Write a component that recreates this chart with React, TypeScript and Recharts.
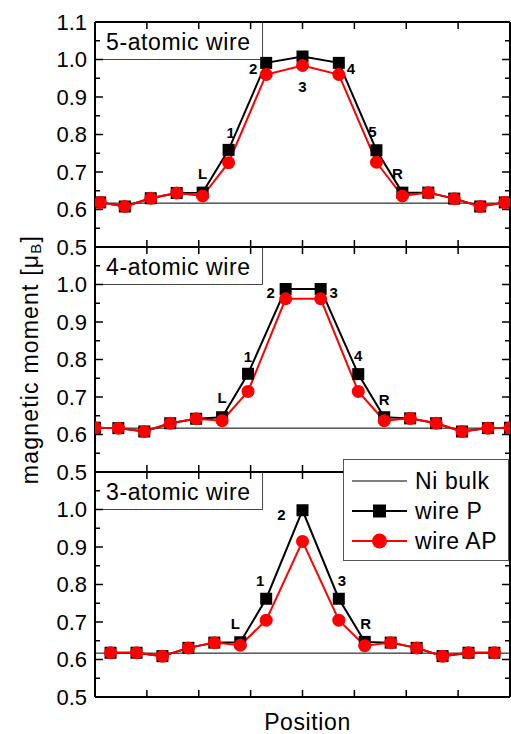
import React from 'react';
import { LineChart, Line, XAxis, YAxis, ReferenceLine, ReferenceArea, LabelList, Legend, Label } from 'recharts';

const FONT = '"Liberation Sans", Arial, sans-serif';

// axes
const xTicks = [0, 2, 4, 6, 8, 10, 12, 14, 16];
const yMajor = [0.5, 0.6, 0.7, 0.8, 0.9, 1.0, 1.1];
const yMinor = [0.55, 0.65, 0.75, 0.85, 0.95, 1.05];
const yLabelled = [0.5, 0.6, 0.7, 0.8, 0.9, 1.0];
const niBulk = 0.617;

// 5-atomic wire
const pos5 = [0.2, 1.15, 2.15, 3.15, 4.15, 5.15, 6.6, 8.0, 9.4, 10.85, 11.85, 12.85, 13.85, 14.85, 15.8];
const p5 = [0.619, 0.608, 0.630, 0.644, 0.645, 0.759, 0.991, 1.008, 0.991, 0.758, 0.645, 0.645, 0.629, 0.608, 0.619];
const ap5 = [0.619, 0.608, 0.630, 0.644, 0.636, 0.725, 0.960, 0.984, 0.960, 0.726, 0.636, 0.645, 0.629, 0.608, 0.619];
const lbl5 = ['', '', '', '', 'L', '1', '2', '3', '4', '5', 'R', '', '', '', ''];

// 4-atomic wire
const pos4 = [0, 0.9, 1.9, 2.9, 3.9, 4.9, 5.9, 7.35, 8.7, 10.15, 11.15, 12.15, 13.15, 14.15, 15.15, 16];
const p4 = [0.618, 0.617, 0.608, 0.630, 0.642, 0.646, 0.762, 0.988, 0.988, 0.761, 0.646, 0.643, 0.630, 0.608, 0.617, 0.618];
const ap4 = [0.618, 0.617, 0.608, 0.630, 0.642, 0.637, 0.715, 0.962, 0.962, 0.715, 0.637, 0.643, 0.630, 0.608, 0.617, 0.618];
const lbl4 = ['', '', '', '', '', 'L', '1', '2', '3', '4', 'R', '', '', '', '', ''];

// 3-atomic wire
const pos3 = [0.6, 1.6, 2.6, 3.6, 4.6, 5.6, 6.6, 8.0, 9.4, 10.4, 11.4, 12.4, 13.4, 14.4, 15.4];
const p3 = [0.618, 0.618, 0.609, 0.631, 0.645, 0.646, 0.762, 0.998, 0.762, 0.647, 0.645, 0.631, 0.609, 0.618, 0.618];
const ap3 = [0.618, 0.618, 0.609, 0.631, 0.645, 0.638, 0.705, 0.915, 0.705, 0.637, 0.645, 0.631, 0.609, 0.618, 0.618];
const lbl3 = ['', '', '', '', '', 'L', '1', '2', '3', 'R', '', '', '', '', ''];

// label offsets from the square marker, per panel
const offs5: Record<string, number[]> = { L: [0, -19], '1': [2, -17], '2': [-13, 6], '3': [0, 30], '4': [12, 6], '5': [-4, -19], R: [-5, -19] };
const offs4: Record<string, number[]> = { L: [0, -20], '1': [0, -17], '2': [-15, 3], '3': [13, 3], '4': [0, -19], R: [0, -18] };
const offs3: Record<string, number[]> = { L: [-5, -19], '1': [-6, -18], '2': [-21, 4], '3': [3, -18], R: [1, -18] };

const legendItems = [
  { name: 'Ni bulk', kind: 'plain', color: '#000' },
  { name: 'wire P', kind: 'square', color: '#000' },
  { name: 'wire AP', kind: 'circle', color: '#ff0000' },
];

const build = (pos: number[], p: number[], ap: number[], lbl: string[]) =>
  pos.map((x, i) => ({ x, p: p[i], ap: ap[i], lbl: lbl[i] }));

const squareDot = (props: any) => {
  const { cx, cy, index } = props;
  if (cx == null || cy == null) return <g key={`s${index}`} />;
  return <rect key={`s${index}`} x={cx - 6} y={cy - 6} width={12} height={12} fill="#000" />;
};

const makeLabel = (offs: Record<string, number[]>) => (props: any) => {
  const { x, y, value, index } = props;
  if (!value) return null;
  const [dx, dy] = offs[value];
  return (
    <text key={`l${index}`} x={x + dx} y={y + dy} textAnchor="middle" dominantBaseline="central"
      fontFamily={FONT} fontWeight="bold" fontSize={15} fill="#000">{value}</text>
  );
};

const YTitle = (props: any) => {
  const { viewBox } = props;
  const cx = 30;
  const cy = viewBox.y + viewBox.height / 2;
  return (
    <text x={cx} y={cy} transform={`rotate(-90 ${cx} ${cy})`} textAnchor="middle" dominantBaseline="central"
      fontFamily={FONT} fontSize={23} letterSpacing={1.2} fill="#000">
      magnetic moment [μ<tspan dy={5} fontSize={15}>B</tspan><tspan dy={-5}>]</tspan>
    </text>
  );
};

const XTitle = (props: any) => {
  const { viewBox } = props;
  return (
    <text x={viewBox.x + viewBox.width / 2 + 5} y={viewBox.y + 26} textAnchor="middle" dominantBaseline="central"
      fontFamily={FONT} fontSize={23} letterSpacing={0.6} fill="#000">Position</text>
  );
};

const makeBoxTitle = (title: string) => (props: any) => {
  const { viewBox } = props;
  return (
    <text x={viewBox.x + 11} y={viewBox.y + viewBox.height / 2 + 1} dominantBaseline="central"
      fontFamily={FONT} fontSize={23} letterSpacing={0.6} fill="#000">{title}</text>
  );
};

const LegendBox = () => (
  <div style={{ width: 166, height: 102, boxSizing: 'border-box', border: '1px solid #555', background: '#fff', paddingTop: 6 }}>
    {legendItems.map((item) => (
      <div key={item.name} style={{ display: 'flex', alignItems: 'center', height: 30 }}>
        <svg width={71} height={30} style={{ flex: 'none' }}>
          <line x1={8} x2={63} y1={15} y2={15} stroke={item.color} strokeWidth={item.kind === 'plain' ? 1 : 2} />
          {item.kind === 'square' && <rect x={29} y={8.5} width={13} height={13} fill={item.color} />}
          {item.kind === 'circle' && <circle cx={35.5} cy={15} r={7.5} fill={item.color} />}
        </svg>
        <span style={{ fontFamily: FONT, fontSize: 23, letterSpacing: 0.6, color: '#000', lineHeight: '30px' }}>{item.name}</span>
      </div>
    ))}
  </div>
);

const frame = { stroke: '#000', strokeWidth: 2 };
const tickStyle = { stroke: '#000', strokeWidth: 1.5 };
const blank = () => '';
const boxRight = 6.46;

function Panel({ data, title, offs, labelTicks, height, bottom, middle, last }: any) {
  return (
    <LineChart width={511} height={height} data={data} margin={{ top: 22, right: 1, bottom, left: 0 }}>
      <XAxis xAxisId="b" type="number" dataKey="x" domain={[0, 16]} ticks={xTicks} interval={0} tickFormatter={blank}
        mirror tickSize={7} height={1} axisLine={frame} tickLine={tickStyle} allowDataOverflow>
        {last && <Label content={XTitle} />}
      </XAxis>
      <XAxis xAxisId="t" orientation="top" type="number" dataKey="x" domain={[0, 16]} ticks={xTicks} interval={0} tickFormatter={blank}
        mirror tickSize={7} height={1} axisLine={frame} tickLine={tickStyle} allowDataOverflow />
      <YAxis yAxisId="v" type="number" domain={[0.5, 1.1]} ticks={labelTicks} interval={0} tickSize={0} tickMargin={8}
        width={95} axisLine={false} tickLine={false} allowDataOverflow
        tick={{ fontSize: 22, fill: '#000', fontFamily: FONT }} tickFormatter={(v: number) => v.toFixed(1)}>
        {middle && <Label content={YTitle} />}
      </YAxis>
      <YAxis yAxisId="lmaj" type="number" domain={[0.5, 1.1]} ticks={yMajor} interval={0} tickFormatter={blank}
        mirror tickSize={8} width={1} axisLine={frame} tickLine={tickStyle} allowDataOverflow />
      <YAxis yAxisId="lmin" type="number" domain={[0.5, 1.1]} ticks={yMinor} interval={0} tickFormatter={blank}
        mirror tickSize={4} width={1} axisLine={false} tickLine={tickStyle} allowDataOverflow />
      <YAxis yAxisId="rmaj" orientation="right" type="number" domain={[0.5, 1.1]} ticks={yMajor} interval={0} tickFormatter={blank}
        mirror tickSize={8} width={1} axisLine={frame} tickLine={tickStyle} allowDataOverflow />
      <YAxis yAxisId="rmin" orientation="right" type="number" domain={[0.5, 1.1]} ticks={yMinor} interval={0} tickFormatter={blank}
        mirror tickSize={4} width={1} axisLine={false} tickLine={tickStyle} allowDataOverflow />
      <ReferenceArea xAxisId="b" yAxisId="v" x1={0} x2={boxRight} y1={1.0} y2={1.1} fill="#fff" fillOpacity={1}
        stroke="#444" strokeWidth={1} ifOverflow="visible">
        <Label content={makeBoxTitle(title)} />
      </ReferenceArea>
      <ReferenceLine xAxisId="b" yAxisId="v" y={niBulk} stroke="#000" strokeWidth={1} />
      {/* invisible carriers so the frame axes get registered */}
      <Line xAxisId="t" yAxisId="lmaj" dataKey="p" stroke="none" dot={false} activeDot={false} legendType="none" isAnimationActive={false} />
      <Line xAxisId="t" yAxisId="lmin" dataKey="p" stroke="none" dot={false} activeDot={false} legendType="none" isAnimationActive={false} />
      <Line xAxisId="t" yAxisId="rmaj" dataKey="p" stroke="none" dot={false} activeDot={false} legendType="none" isAnimationActive={false} />
      <Line xAxisId="t" yAxisId="rmin" dataKey="p" stroke="none" dot={false} activeDot={false} legendType="none" isAnimationActive={false} />
      <Line xAxisId="b" yAxisId="v" dataKey="p" name="wire P" stroke="#000" strokeWidth={2} dot={squareDot}
        activeDot={false} isAnimationActive={false}>
        <LabelList dataKey="lbl" content={makeLabel(offs)} />
      </Line>
      <Line xAxisId="b" yAxisId="v" dataKey="ap" name="wire AP" stroke="#ff0000" strokeWidth={2}
        dot={{ r: 6.5, fill: '#ff0000', stroke: '#ff0000', strokeWidth: 0 }} activeDot={false} isAnimationActive={false} />
      {last && (
        <Legend layout="vertical" align="center" verticalAlign="middle" content={LegendBox}
          wrapperStyle={{ left: 343, top: 9, width: 166, height: 102 }} />
      )}
    </LineChart>
  );
}

export default function App() {
  const d5 = build(pos5, p5, ap5, lbl5);
  const d4 = build(pos4, p4, ap4, lbl4);
  const d3 = build(pos3, p3, ap3, lbl3);
  return (
    <div style={{ position: 'absolute', left: 0, top: 0, width: 511, height: 734, background: '#fff', overflow: 'hidden' }}>
      <div style={{ position: 'absolute', left: 0, top: 0 }}>
        <Panel data={d5} title="5-atomic wire" offs={offs5} labelTicks={yMajor} height={260} bottom={13} />
      </div>
      <div style={{ position: 'absolute', left: 0, top: 225 }}>
        <Panel data={d4} title="4-atomic wire" offs={offs4} labelTicks={yLabelled} height={260} bottom={13} middle />
      </div>
      <div style={{ position: 'absolute', left: 0, top: 450 }}>
        <Panel data={d3} title="3-atomic wire" offs={offs3} labelTicks={yLabelled} height={284} bottom={37} last />
      </div>
    </div>
  );
}
